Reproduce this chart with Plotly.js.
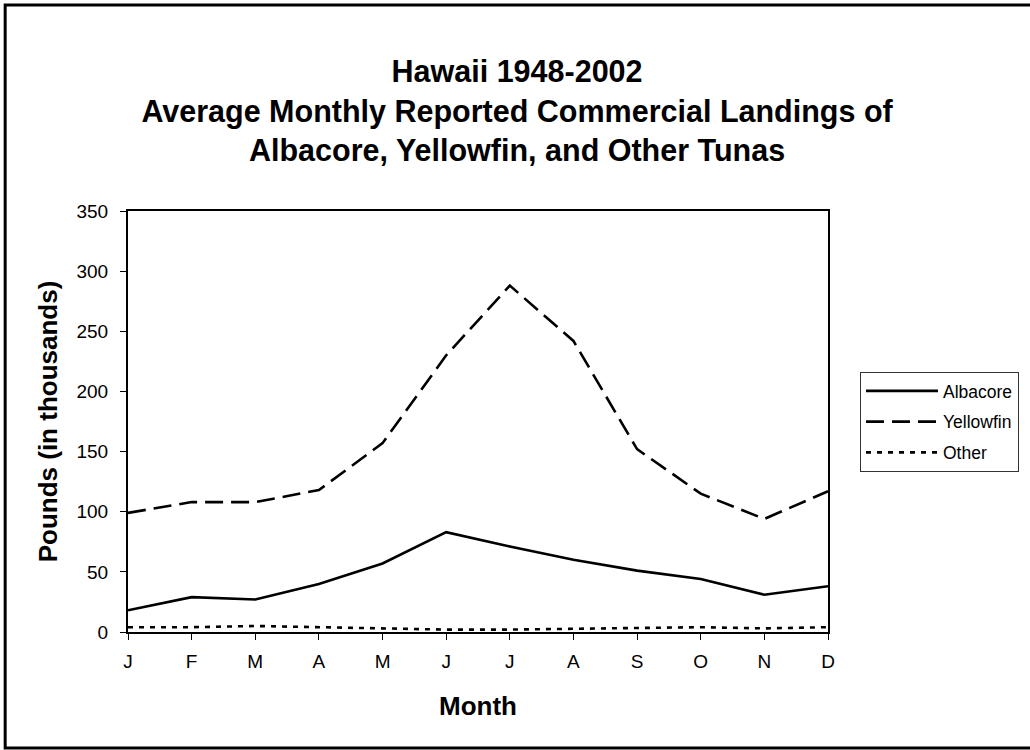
<!DOCTYPE html>
<html>
<head>
<meta charset="utf-8">
<script src="https://cdn.plot.ly/plotly-3.0.1.min.js"></script>
<style>html,body{margin:0;padding:0;background:#fff;}#chart{width:1030px;height:750px;}</style>
</head>
<body>
<div id="chart"></div>
<script>
const months = ["J","F","M","A","M","J","J","A","S","O","N","D"];
const monthKeys = ["Jan","Feb","Mar","Apr","May","Jun","Jul","Aug","Sep","Oct","Nov","Dec"];
const albacore = [18, 29, 27, 40, 57, 83, 71, 60, 51, 44, 31, 38];
const yellowfin = [99, 108, 108, 118, 157, 230, 288, 242, 152, 115, 94, 117];
const other = [4, 4, 5, 4, 3, 2, 2, 2.5, 3, 4, 3, 4];

const W = 1030, H = 750;
const L = 128, R = 829, T = 211, B = 632;
const px = x => (x - L) / (R - L);
const py = y => (B - y) / (B - T);

const traces = [
  {x: monthKeys, y: albacore, name: "Albacore", legendgroup: "a", mode: "lines",
   line: {color: "#000", width: 2.6}},
  {x: monthKeys, y: yellowfin, name: "Yellowfin", legendgroup: "y", mode: "lines",
   line: {color: "#000", width: 2.6, dash: "18px,8px"}},
  {x: monthKeys, y: other, name: "Other", legendgroup: "o", mode: "lines",
   line: {color: "#000", width: 2.6, dash: "5px,6px"}}
];

const layout = {
  width: W, height: H,
  margin: {l: L, r: W - R, t: T, b: H - B, pad: 0},
  paper_bgcolor: "#fff", plot_bgcolor: "#fff",
  font: {family: "Arial, 'Liberation Sans', sans-serif", color: "#000"},
  title: {
    text: "Hawaii 1948-2002<br>Average Monthly Reported Commercial Landings of<br>Albacore, Yellowfin, and Other Tunas",
    font: {size: 30.5, weight: "bold", color: "#000"},
    x: 0.502, xanchor: "center", y: 1 - 82/H, yanchor: "top"
  },
  xaxis: {
    type: "category", range: [0, 11],
    tickmode: "array", tickvals: monthKeys, ticktext: months,
    ticks: "outside", ticklen: 6, tickcolor: "#000", tickwidth: 1,
    tickfont: {size: 19}, ticklabelstandoff: 5,
    showline: true, linecolor: "#000", linewidth: 2, mirror: true,
    showgrid: false, zeroline: false,
    title: {text: "Month", font: {size: 26, weight: "bold"}, standoff: 26}
  },
  yaxis: {
    range: [0, 350], dtick: 50,
    ticks: "outside", ticklen: 6, tickcolor: "#000", tickwidth: 1,
    tickfont: {size: 19}, ticklabelstandoff: 8,
    showline: true, linecolor: "#000", linewidth: 2, mirror: true,
    showgrid: false, zeroline: false,
    title: {text: "Pounds (in thousands)", font: {size: 26, weight: "bold"}, standoff: 11}
  },
  legend: {
    x: px(860), y: py(372), xanchor: "left", yanchor: "top",
    bordercolor: "#333", borderwidth: 1, bgcolor: "#fff",
    font: {size: 17.5}, itemwidth: 72,
    traceorder: "grouped", tracegroupgap: 5
  },
  shapes: [
    {type: "rect", xref: "paper", yref: "paper",
     x0: px(5), x1: px(1040), y0: py(748), y1: py(5),
     line: {color: "#000", width: 3}}
  ],
  showlegend: true
};

Plotly.newPlot("chart", traces, layout, {displayModeBar: false, staticPlot: true});
</script>
</body>
</html>
